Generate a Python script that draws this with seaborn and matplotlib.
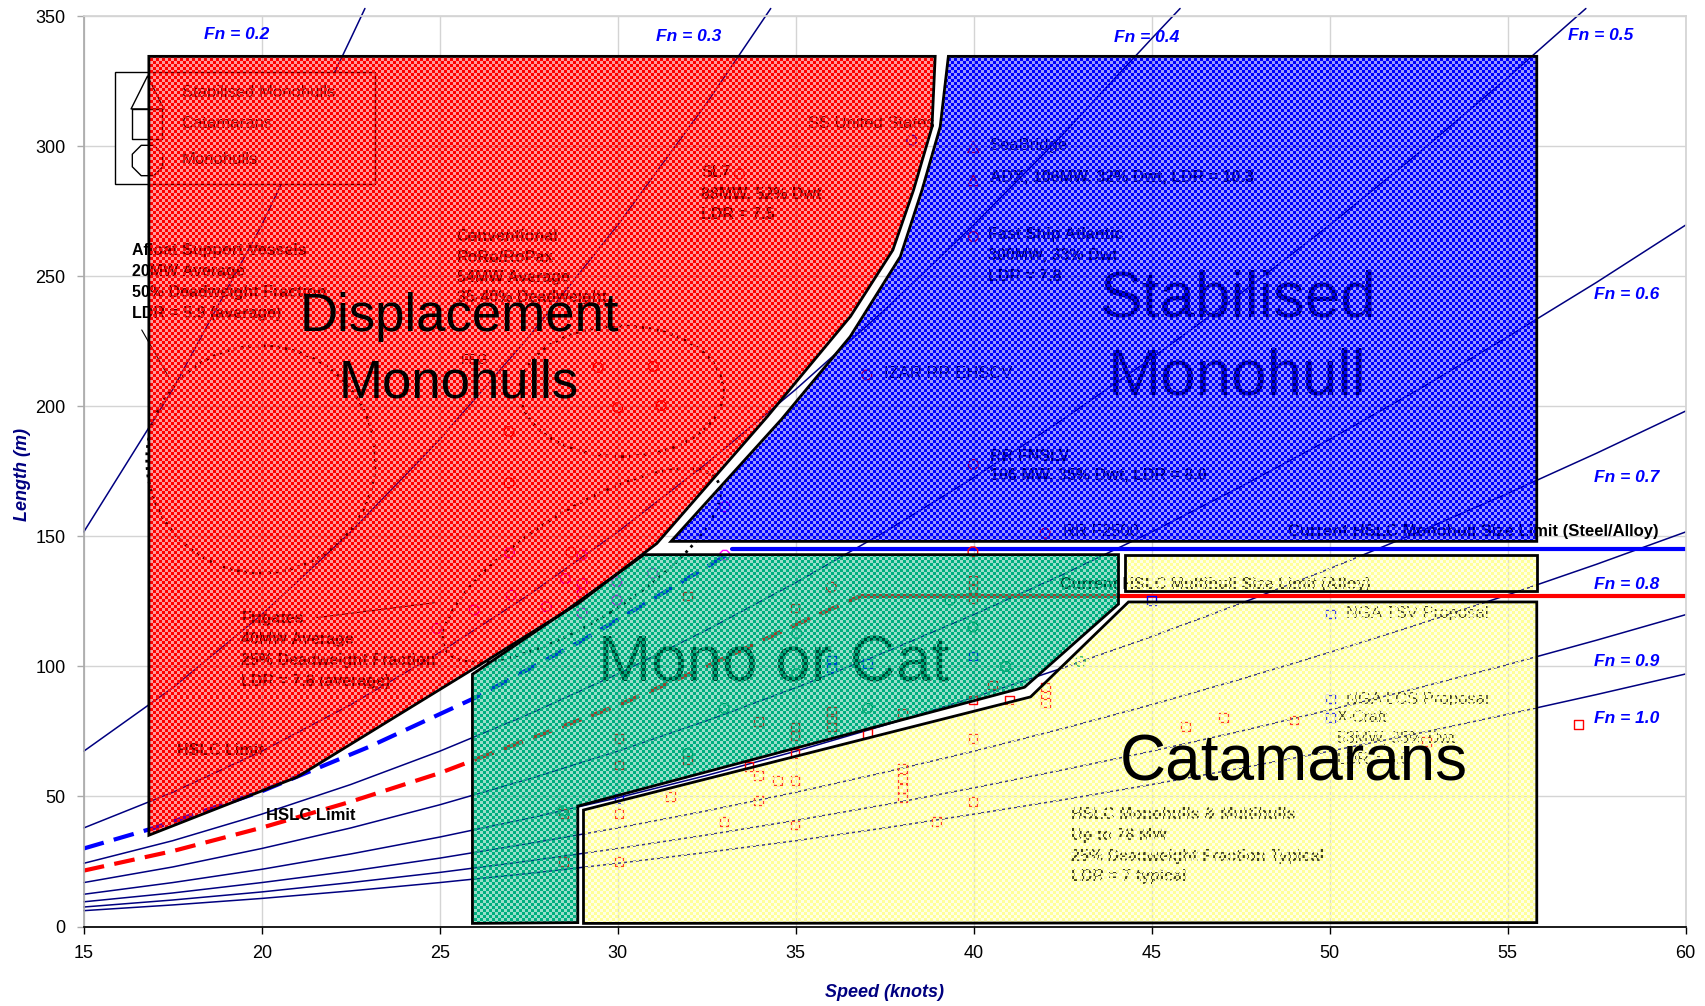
import numpy as np
import matplotlib
matplotlib.use('Agg')
import matplotlib.pyplot as plt
import matplotlib.transforms as mtransforms
from matplotlib.patches import Polygon, Ellipse, Rectangle
import seaborn as sns

sns.set_theme(style='whitegrid')
plt.rcParams['font.family'] = ['Liberation Sans', 'DejaVu Sans']

# Froude number lines: length (m) at each speed (knots)
spd = [15, 17.5, 20, 22.5, 25, 27.5, 30, 32.5, 35, 37.5, 40, 42.5, 45, 47.5, 50, 52.5, 55, 57.5, 60]
fn02_spd = [15, 17.5, 20, 22.5, 22.9]
fn02_len = [151.7, 206.5, 269.7, 341.4, 353]
fn03_spd = [15, 17.5, 20, 22.5, 25, 27.5, 30, 32.5, 34.3]
fn03_len = [67.4, 91.8, 119.9, 151.7, 187.3, 226.7, 269.7, 316.6, 353]
fn04_spd = [15, 17.5, 20, 22.5, 25, 27.5, 30, 32.5, 35, 37.5, 40, 42.5, 45, 45.8]
fn04_len = [37.9, 51.6, 67.4, 85.3, 105.4, 127.5, 151.7, 178.1, 206.5, 237.1, 269.7, 304.5, 341.4, 353]
fn05_spd = [15, 17.5, 20, 22.5, 25, 27.5, 30, 32.5, 35, 37.5, 40, 42.5, 45, 47.5, 50, 52.5, 55, 57.2]
fn05_len = [24.3, 33.0, 43.2, 54.6, 67.4, 81.6, 97.1, 114.0, 132.2, 151.7, 172.6, 194.9, 218.5, 243.4,
            269.7, 297.4, 326.4, 353]
fn06_len = [16.9, 22.9, 30.0, 37.9, 46.8, 56.7, 67.4, 79.1, 91.8, 105.4, 119.9, 135.3, 151.7, 169.1,
            187.3, 206.5, 226.7, 247.7, 269.7]
fn07_len = [12.4, 16.9, 22.0, 27.9, 34.4, 41.6, 49.5, 58.1, 67.4, 77.4, 88.1, 99.4, 111.5, 124.2,
            137.6, 151.7, 166.5, 182.0, 198.2]
fn08_len = [9.5, 12.9, 16.9, 21.3, 26.3, 31.9, 37.9, 44.5, 51.6, 59.3, 67.4, 76.1, 85.3, 95.1,
            105.4, 116.2, 127.5, 139.3, 151.7]
fn09_len = [7.5, 10.2, 13.3, 16.9, 20.8, 25.2, 30.0, 35.2, 40.8, 46.8, 53.3, 60.2, 67.4, 75.1,
            83.3, 91.8, 100.7, 110.1, 119.9]
fn10_len = [6.1, 8.3, 10.8, 13.7, 16.9, 20.4, 24.3, 28.5, 33.0, 37.9, 43.2, 48.7, 54.6, 60.9,
            67.4, 74.3, 81.6, 89.2, 97.1]

fn_names = ['Fn = 0.2', 'Fn = 0.3', 'Fn = 0.4', 'Fn = 0.5', 'Fn = 0.6', 'Fn = 0.7', 'Fn = 0.8', 'Fn = 0.9', 'Fn = 1.0']
fn_lab_x = [19.3, 32.0, 44.85, 57.6, 58.35, 58.35, 58.35, 58.35, 58.35]
fn_lab_y = [342.9, 342.1, 341.7, 342.5, 243.0, 172.7, 131.7, 102.0, 79.9]

# HSLC size limits
mono_lim_spd = [15, 17, 20, 23, 26, 29, 31, 33.2]
mono_lim_len = [30, 38, 52, 69, 88, 110, 126, 144]
mono_flat_spd = [33.2, 60]
mono_flat_len = [145, 145]
multi_lim_spd = [15, 17.5, 20, 22.5, 25, 27.5, 30, 32.5, 35, 36.8]
multi_lim_len = [21.5, 29, 38, 48, 59, 72, 85, 100, 116, 127]
multi_flat_spd = [36.8, 60]
multi_flat_len = [127, 127]

# design regions (outline vertices)
red_x = [16.83, 16.83, 38.92, 38.83, 38.31, 37.73, 36.54, 34.2, 31.1, 28.9, 26.0, 21.0]
red_y = [35.1, 334.6, 334.6, 307.4, 283.1, 260.1, 234.6, 196.0, 147.3, 124.3, 99.5, 57.5]
blue_x = [31.5, 34.6, 36.53, 37.94, 38.55, 39.06, 39.29, 55.82, 55.82]
blue_y = [148.1, 195.0, 226.8, 257.6, 283.2, 307.5, 334.6, 334.6, 148.1]
green_x = [25.92, 28.4, 30.74, 44.07, 44.07, 41.43, 28.88, 28.88, 25.92]
green_y = [97.0, 120.0, 143.0, 143.0, 124.0, 92.0, 46.3, 1.5, 1.2]
yel_x = [29.04, 29.04, 41.6, 44.35, 55.82, 55.82]
yel_y = [1.2, 44.8, 88.3, 124.8, 124.8, 1.5]
yel2_x = [44.26, 44.26, 55.82, 55.82]
yel2_y = [129.0, 142.8, 142.8, 129.0]

# vessels
cat_red_x = [57.0, 47.02, 45.95, 49.0, 52.73, 31.97, 34.98, 39.98, 39.98, 39.98, 33.96, 34.98, 34.98,
             36.0, 36.0, 36.0, 38.0, 30.04, 30.04, 31.97, 34.98, 37.02, 39.98, 41.0, 42.02, 42.02,
             42.02, 40.52, 33.96, 33.96, 34.49, 34.98, 33.69, 38.0, 38.0, 38.0, 38.0, 39.98, 39.98,
             31.49, 32.99, 34.98, 38.96, 30.04, 30.04, 28.47, 28.47]
cat_red_y = [77.8, 80.3, 77.0, 79.4, 71.1, 127.1, 122.5, 130.0, 126.0, 133.0, 78.7, 76.7, 73.6,
             82.6, 80.0, 76.7, 82.0, 72.4, 62.1, 64.0, 66.6, 74.3, 87.1, 87.1, 86.0, 89.0,
             92.0, 92.9, 58.2, 48.6, 56.3, 56.3, 61.5, 60.8, 57.0, 53.0, 49.5, 72.4, 48.0,
             49.9, 40.3, 39.0, 40.3, 43.5, 24.9, 43.5, 24.9]
cat_blue_x = [39.98, 36.0, 36.0, 37.02, 30.04, 44.99, 50.03, 50.03, 50.03]
cat_blue_y = [104.0, 102.5, 99.5, 101.2, 49.3, 125.5, 120.2, 87.5, 80.4]
mono_red_x = [26.95, 26.95, 28.69, 29.45, 30.0, 31.0, 31.22, 33.42, 39.99, 37.0, 39.99, 42.01, 36.0, 39.98]
mono_red_y = [190.3, 170.6, 143.9, 215.0, 199.5, 215.4, 200.3, 289.4, 265.3, 212.1, 177.7, 151.2, 130.5, 144.1]
mono_blue_x = [38.26]
mono_blue_y = [302.4]
mono_green_x = [35.03, 35.03, 32.99, 37.02, 39.98, 39.34, 40.9, 43.0, 31.97, 28.47]
mono_green_y = [112.7, 97.3, 83.9, 83.9, 115.2, 125.5, 100.0, 101.9, 66.6, 44.5]
mono_mag_x = [26.96, 29.0, 28.53, 29.0, 29.0, 27.01, 25.97, 28.0, 29.98, 29.98, 29.0, 30.98, 33.01, 33.01, 24.92]
mono_mag_y = [143.7, 142.8, 133.8, 131.9, 128.1, 127.4, 121.7, 123.0, 132.6, 125.5, 120.5, 135.8, 142.8, 161.4, 114.6]
stab_red_x = [39.99, 39.99]
stab_red_y = [299.7, 286.9]

fig = plt.figure(figsize=(17.05, 10.06), dpi=100)
ax = fig.add_axes([0.0491, 0.0790, 0.9395, 0.9048])

NAVY = '#000080'

# Froude lines
for xs, ys in [(fn02_spd, fn02_len), (fn03_spd, fn03_len), (fn04_spd, fn04_len), (fn05_spd, fn05_len),
               (spd, fn06_len), (spd, fn07_len), (spd, fn08_len), (spd, fn09_len), (spd, fn10_len)]:
    sns.lineplot(x=xs, y=ys, ax=ax, color=NAVY, lw=1.1, sort=False, estimator=None,
                 zorder=1, clip_on=False)

for name, x, y in zip(fn_names, fn_lab_x, fn_lab_y):
    ax.text(x, y, name, color='#0000ff', fontsize=12.5, fontweight='bold', fontstyle='italic',
            ha='center', va='center', zorder=6)

# limits
ax.plot(mono_lim_spd, mono_lim_len, color='#0000ff', lw=3, dashes=(5, 2.5), zorder=2)
ax.plot(mono_flat_spd, mono_flat_len, color='#0000ff', lw=3, zorder=2)
ax.plot(multi_lim_spd, multi_lim_len, color='#ff0000', lw=3, dashes=(5, 2.5), zorder=2)
ax.plot(multi_flat_spd, multi_flat_len, color='#ff0000', lw=3, zorder=2)

# vessel markers
mk = dict(lw=1, zorder=2, clip_on=False)
ax.scatter(cat_red_x, cat_red_y, marker='s', s=40, facecolors='none', edgecolors='red', **mk)
ax.scatter(cat_blue_x, cat_blue_y, marker='s', s=40, facecolors='none', edgecolors='blue', **mk)
ax.scatter(mono_red_x, mono_red_y, marker='8', s=55, facecolors='none', edgecolors='red', **mk)
ax.scatter(mono_blue_x, mono_blue_y, marker='8', s=55, facecolors='none', edgecolors='blue', **mk)
ax.scatter(mono_green_x, mono_green_y, marker='8', s=55, facecolors='none', edgecolors='#00a060', **mk)
ax.scatter(mono_mag_x, mono_mag_y, marker='8', s=55, facecolors='none', edgecolors='#ff00ff', **mk)
ax.scatter(stab_red_x, stab_red_y, marker='^', s=60, facecolors='none', edgecolors='red', **mk)

# legend box (sits under the red region)
ax.add_patch(Rectangle((15.89, 285.7), 7.3, 43.0, facecolor='white', edgecolor='black', lw=1, zorder=2))
ax.scatter([16.77], [320.8], marker='^', s=560, facecolors='white', edgecolors='black', lw=1, zorder=2)
ax.scatter([16.77], [308.7], marker='s', s=480, facecolors='white', edgecolors='black', lw=1, zorder=2)
ax.scatter([16.77], [294.9], marker='8', s=560, facecolors='white', edgecolors='black', lw=1, zorder=2)
for lab, y in [('Stabilised Monohulls', 320.8), ('Catamarans', 308.7), ('Monohulls', 294.9)]:
    ax.text(17.75, y, lab, fontsize=12, color='black', va='center', zorder=2)

# dotted groupings
ax.add_patch(Ellipse((19.98, 179.6), 6.42, 87.4, fill=False, ec='black', ls=':', lw=2, zorder=2))
ax.add_patch(Ellipse((30.11, 205.8), 5.72, 50.2, fill=False, ec='black', ls=':', lw=2, zorder=2))
ax.plot([21.55, 24.85], [118.8, 124.5], color='black', lw=0.8, zorder=2)
ax.plot([16.63, 17.38], [229.4, 211.5], color='black', lw=0.8, zorder=2)


def block(x, y0, dy, lines, **kw):
    for i, s in enumerate(lines):
        ax.text(x, y0 - i * dy, s, va='center', zorder=2, **kw)


B = dict(fontsize=11.5, fontweight='bold', color='black')
R = dict(fontsize=12, color='black')
block(16.37, 260.1, 8.07, ['Afloat Support Vessels', '20MW Average', '50% Deadweight Fraction',
                           'LDR = 5.9 (average)'], **B)
block(25.48, 265.2, 7.8, ['Conventional', 'RoRo/RoPax', '54MW Average', '35-40% Deadweight'], **B)
block(32.35, 289.8, 7.95, ['SL7', '88MW, 52% Dwt', 'LDR = 7.5'], **B)
block(35.35, 308.7, 0, ['SS United States'], **R)
block(40.45, 300.3, 0, ['SeaBridge'], **R)
block(40.45, 288.2, 0, ['ADX, 106MW, 32% Dwt, LDR = 10.3'], **B)
block(40.39, 266.0, 7.95, ['Fast Ship Atlantic', '300MW, 33% Dwt', 'LDR = 7.8'], **B)
block(37.49, 212.5, 0, ['IZAR RR EHSCV'], **R)
block(25.6, 217.9, 0, ['FFG'], fontsize=10, color='black')
block(40.45, 180.7, 7.1, ['RR FNSLV', '106 MW, 35% Dwt, LDR = 8.0'], **B)
block(42.5, 151.8, 0, ['RR F2500'], **R)
ax.text(59.24, 151.8, 'Current HSLC Monohull Size Limit (Steel/Alloy)', ha='right', va='center',
        zorder=2, fontsize=12, fontweight='bold', color='black')
block(42.44, 131.7, 0, ['Current HSLC Multihull Size Limit (Alloy)'], **B)
block(50.47, 120.5, 0, ['NGA TSV Proposal'], **R)
block(50.47, 87.4, 0, ['NGA LCS Proposal'], **R)
block(50.2, 80.3, 8.1, ['X-Craft', '53MW, 35% Dwt', 'LDR = 5.0'], fontsize=11.5, color='black')
block(42.74, 43.1, 8.0, ['HSLC Monohulls & Multihulls', 'Up to 78 MW', '25% Deadweight Fraction Typical',
                         'LDR = 7 typical'], **B)
block(19.43, 118.4, 8.0, ['Frigates', '40MW Average', '25% Deadweight Fraction', 'LDR = 7.6 (average)'], **B)
block(17.63, 67.8, 0, ['HSLC Limit'], **B)
ax.text(20.13, 42.7, 'HSLC Limit', va='center', fontsize=12, fontweight='bold', color='black', zorder=6)

# region names that sit under the fill pattern
ax.text(47.4, 234.6, 'Stabilised', ha='center', va='baseline', fontsize=46, color='black', zorder=2)
ax.text(47.4, 204.5, 'Monohull', ha='center', va='baseline', fontsize=46, color='black', zorder=2)
ax.text(34.37, 94.1, 'Mono or Cat', ha='center', va='baseline', fontsize=46, color='black', zorder=2)

ax.set_xlim(15, 60)
ax.set_ylim(0, 350)

# checkered fills (3 px cells, alternate cells only lightly tinted)
ny, nx = 303, 534
chk = (np.add.outer(np.arange(ny), np.arange(nx)) % 2) == 0


def region(xs, ys, rgb, soft):
    outline = Polygon(np.column_stack([xs, ys]), closed=True, fill=False, ec='black', lw=2, zorder=4)
    ax.add_patch(outline)
    img = np.zeros((ny, nx, 4))
    img[:, :, 0], img[:, :, 1], img[:, :, 2] = rgb
    img[:, :, 3] = np.where(chk, 1.0, soft)
    im = ax.imshow(img, extent=(15, 60, 0, 350), origin='lower', interpolation='nearest',
                   aspect='auto', zorder=3)
    im.set_clip_path(outline)


region(red_x, red_y, (1.0, 0.0, 0.0), 0.4)
region(blue_x, blue_y, (0.0, 0.0, 1.0), 0.4)
region(green_x, green_y, (0.0, 0.69, 0.5), 0.4)
region(yel_x, yel_y, (1.0, 1.0, 0.6), 0.25)
region(yel2_x, yel2_y, (1.0, 1.0, 0.6), 0.25)

ax.set_xlim(15, 60)
ax.set_ylim(0, 350)

# frigate grouping is a tilted ellipse, drawn in pixels
cx, cy = ax.transData.transform((28.99, 138.85))
ax.add_patch(Ellipse((cx, cy), 320, 110, angle=32, transform=mtransforms.IdentityTransform(),
                     fill=False, ec='black', ls=':', lw=2, zorder=2))

# region names on top
ax.text(25.54, 228.8, 'Displacement', ha='center', va='baseline', fontsize=38, color='black', zorder=6)
ax.text(25.54, 203.3, 'Monohulls', ha='center', va='baseline', fontsize=38, color='black', zorder=6)
ax.text(49.0, 56.0, 'Catamarans', ha='center', va='baseline', fontsize=46, color='black', zorder=6)

ax.set_xticks(range(15, 61, 5))
ax.set_yticks(range(0, 351, 50))
ax.grid(True, color='#d4d4d4', lw=1)
ax.set_axisbelow(True)
ax.tick_params(axis='both', labelsize=13, pad=8, length=5, width=1, colors='black')
ax.tick_params(axis='y', color='#aaaaaa')
ax.tick_params(left=True, bottom=True)
for side in ['top', 'right']:
    ax.spines[side].set_color('#d4d4d4')
ax.spines['left'].set_color('#aaaaaa')
ax.spines['bottom'].set_color('black')

ax.set_xlabel('Speed (knots)', fontsize=13, fontweight='bold', fontstyle='italic', color=NAVY)
ax.set_ylabel('Length (m)', fontsize=13, fontweight='bold', fontstyle='italic', color=NAVY)
ax.xaxis.set_label_coords(0.5, -0.0632)
ax.yaxis.set_label_coords(-0.0331, 0.497)

fig.savefig('out.png', dpi=100)
